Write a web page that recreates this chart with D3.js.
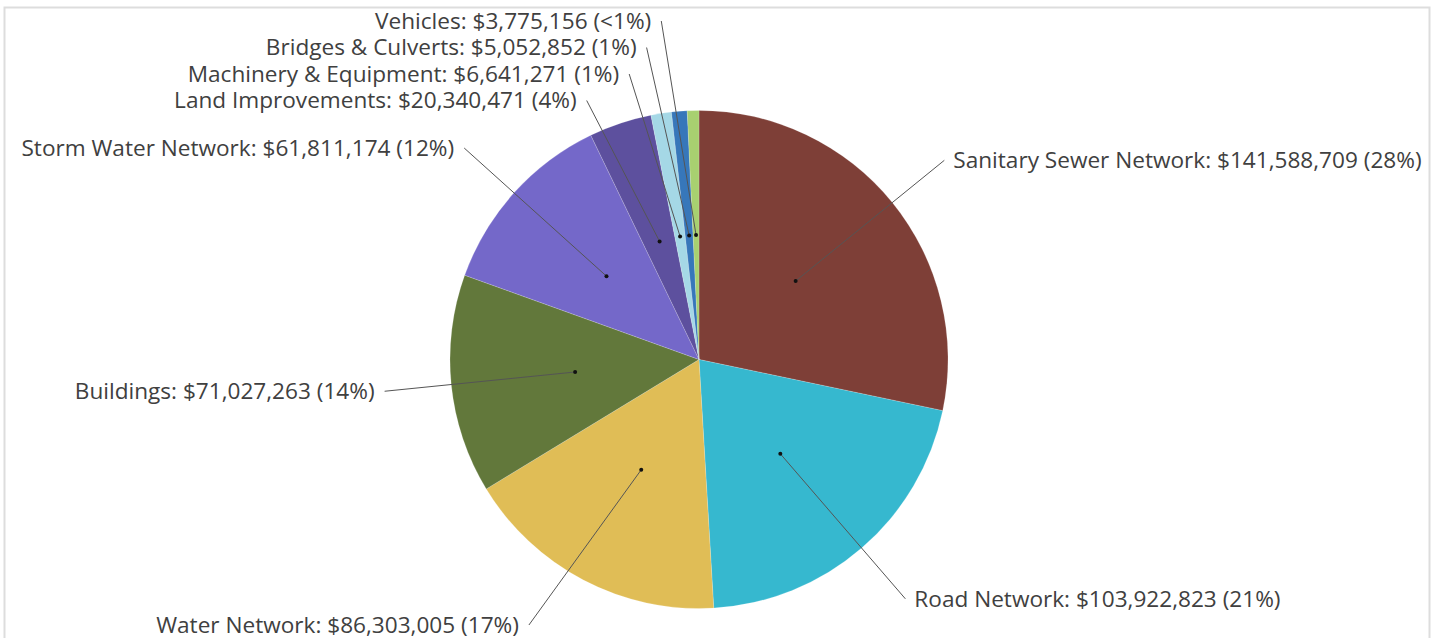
<!DOCTYPE html>
<html>
<head>
<meta charset="utf-8">
<script src="https://cdn.jsdelivr.net/npm/d3@7"></script>
<style>
  body { margin: 0; background: #fff; }
  svg { display: block; }
</style>
</head>
<body>
<div id="pie"></div>
<script>
// asset categories, clockwise from 12 o'clock
const categories = ["Sanitary Sewer Network", "Road Network", "Water Network", "Buildings",
  "Storm Water Network", "Land Improvements", "Machinery & Equipment", "Bridges & Culverts", "Vehicles"];
const values = [141588709, 103922823, 86303005, 71027263, 61811174, 20340471, 6641271, 5052852, 3775156];
const colors = ["#7e3f37", "#36b8cf", "#e0bd56", "#62783b", "#7468c9", "#5d509e", "#a5d8e6", "#3777ba", "#a8d070"];

const width = 1438;
const height = 638;
const cx = 699, cy = 359.5;
const radius = 249;
const labelRadius = 316;
const gap = 26.5;

const svg = d3.select("#pie").append("svg")
  .attr("width", width)
  .attr("height", height);

// frame
svg.append("rect")
  .attr("x", 4.5)
  .attr("y", 7.5)
  .attr("width", 1425)
  .attr("height", 660)
  .attr("fill", "none")
  .attr("stroke", "#dddddd")
  .attr("stroke-width", 2);

const total = d3.sum(values);
const pie = d3.pie().sort(null).value(d => d);
const arcs = pie(values);
const arc = d3.arc().innerRadius(0).outerRadius(radius);

const g = svg.append("g").attr("transform", `translate(${cx},${cy})`);

g.selectAll("path")
  .data(arcs)
  .enter().append("path")
  .attr("d", arc)
  .attr("fill", (d, i) => colors[i])
  .attr("stroke", "rgba(255,255,255,0.35)")
  .attr("stroke-width", 0.5);

const fmt = d3.format(",");
function pct(v) {
  const p = v / total * 100;
  return p < 1 ? "<1%" : Math.round(p) + "%";
}

// label anchors: start on the mid angle, then push apart on each side
const labels = arcs.map((a, i) => {
  const mid = (a.startAngle + a.endAngle) / 2;
  const y = cy - labelRadius * Math.cos(mid);
  return {
    i: i,
    mid: mid,
    left: mid > Math.PI,
    x: cx + labelRadius * Math.sin(mid),
    y0: y,
    y: y
  };
});

[true, false].forEach(side => {
  const list = labels.filter(d => d.left === side).sort((a, b) => a.y - b.y);
  for (let k = 0; k < 300; k++) {
    for (let j = 1; j < list.length; j++) {
      const o = gap - (list[j].y - list[j - 1].y);
      if (o > 0) {
        list[j - 1].y -= o / 2;
        list[j].y += o / 2;
      }
    }
    list.forEach(d => { d.y = Math.max(21, Math.min(625, d.y)); });
  }
});

// moved labels swing a few degrees toward the horizontal
const swing = 5 * Math.PI / 180;
labels.forEach(d => {
  if (Math.abs(d.y - d.y0) > 1) {
    const up = d.y < cy;
    let a = d.mid;
    if (d.left) a += up ? -swing : swing;
    else a += up ? swing : -swing;
    d.x = cx - (d.y - cy) * Math.tan(a);
  }
});

const lines = svg.append("g");
labels.forEach(d => {
  const px = cx + radius * 0.5 * Math.sin(d.mid);
  const py = cy - radius * 0.5 * Math.cos(d.mid);
  lines.append("line")
    .attr("x1", px).attr("y1", py)
    .attr("x2", d.x).attr("y2", d.y)
    .attr("stroke", "#555")
    .attr("stroke-width", 1);
  lines.append("circle")
    .attr("cx", px).attr("cy", py)
    .attr("r", 2)
    .attr("fill", "#111");
});

svg.append("g").selectAll("text")
  .data(labels)
  .enter().append("text")
  .attr("x", d => d.left ? d.x - 10 : d.x + 9)
  .attr("y", d => d.y)
  .attr("dy", "0.35em")
  .attr("text-anchor", d => d.left ? "end" : "start")
  .style("font-family", "'Open Sans', sans-serif")
  .style("font-size", "22.6px")
  .style("fill", "#404040")
  .text(d => `${categories[d.i]}: $${fmt(values[d.i])} (${pct(values[d.i])})`);
</script>
</body>
</html>
